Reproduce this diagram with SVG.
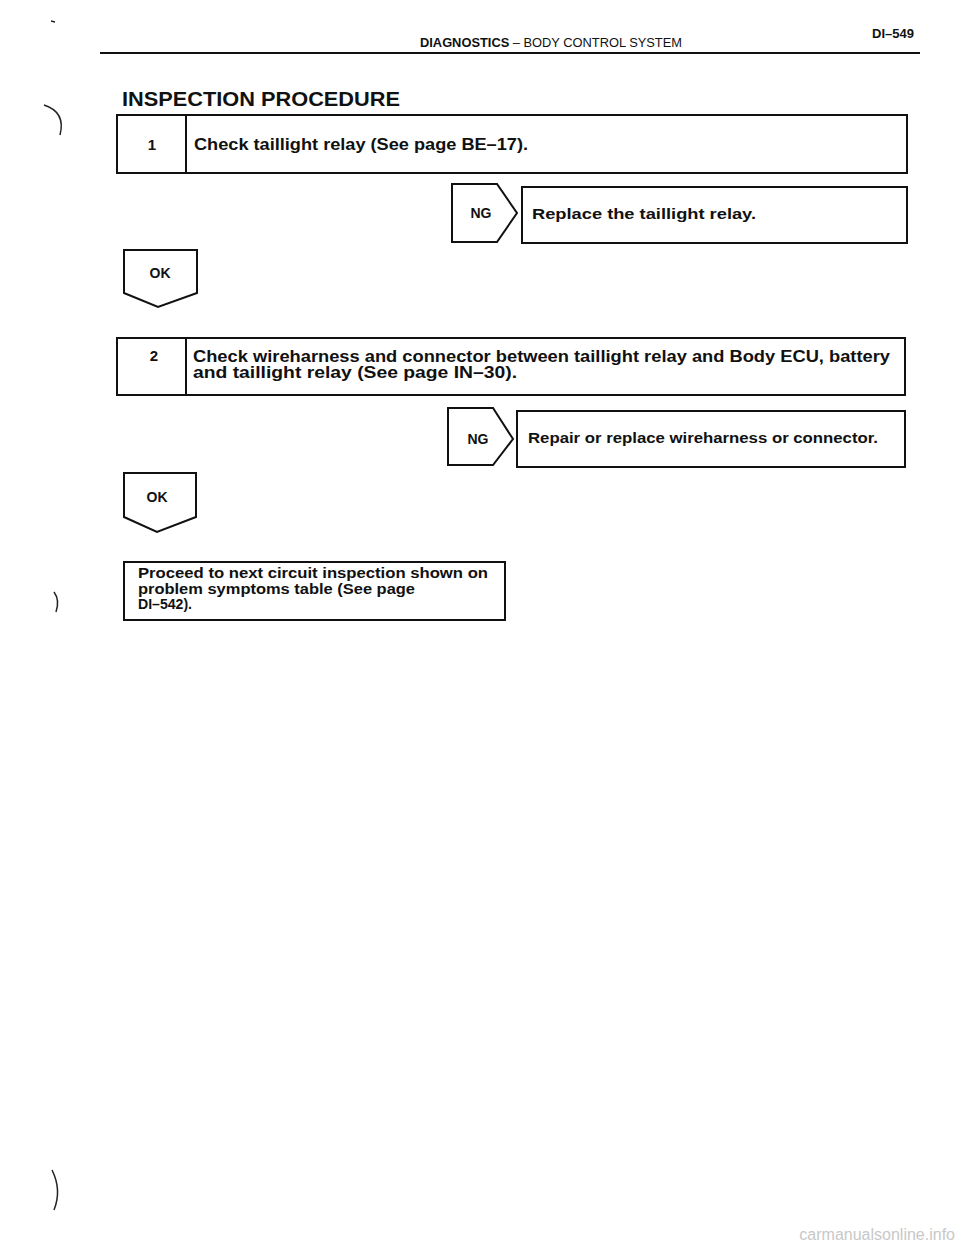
<svg xmlns="http://www.w3.org/2000/svg" width="960" height="1250" viewBox="0 0 960 1250">
<style>
.ln{fill:none;stroke:#111;stroke-width:2}
.t{font-family:"Liberation Sans",Arial,sans-serif;font-weight:bold;fill:#111}
.h{font-family:"Liberation Sans",Arial,sans-serif;fill:#111}
.mk{fill:none;stroke:#222;stroke-width:1.5}
</style>
<rect width="960" height="1250" fill="#fff"/>
<g id="marks">
<path class="mk" d="M51 21 l4 1"/>
<path class="mk" d="M44 105 Q66 112 60 135" stroke-width="2"/>
<path class="mk" d="M54 592 Q60 600 56 612" stroke-width="1"/>
<path class="mk" d="M52 1170 Q62 1190 54 1210" stroke-width="1"/>
</g>
<g id="header">
<text class="t" x="914" y="38" font-size="13" text-anchor="end">DI–549</text>
<text class="h" x="420" y="47" font-size="12" textLength="262" lengthAdjust="spacingAndGlyphs"><tspan font-weight="bold">DIAGNOSTICS</tspan>  –  BODY CONTROL SYSTEM</text>
<path class="ln" d="M100 53 H920" stroke-width="1.5"/>
<text class="t" x="122" y="106" font-size="20" textLength="278" lengthAdjust="spacingAndGlyphs">INSPECTION PROCEDURE</text>
</g>
<g id="step1">
<rect class="ln" x="117" y="115" width="790" height="58"/>
<path class="ln" d="M186 115 V173"/>
<text class="t" x="152" y="150" font-size="15" text-anchor="middle">1</text>
<text class="t" x="194" y="150" font-size="16" textLength="334" lengthAdjust="spacingAndGlyphs">Check taillight relay (See page BE–17).</text>
</g>
<g id="ng1">
<path class="ln" d="M452 184 H497 L517 213 L497 242 H452 Z"/>
<text class="t" x="481" y="218" font-size="14" text-anchor="middle">NG</text>
</g>
<g id="result1">
<rect class="ln" x="522" y="187" width="385" height="56"/>
<text class="t" x="532" y="219" font-size="14" textLength="224" lengthAdjust="spacingAndGlyphs">Replace the taillight relay.</text>
</g>
<g id="ok1">
<path class="ln" d="M124 250 H197 V293 L158 307 L124 293 Z"/>
<text class="t" x="160" y="278" font-size="14" text-anchor="middle">OK</text>
</g>
<g id="step2">
<rect class="ln" x="117" y="338" width="788" height="57"/>
<path class="ln" d="M186 338 V395"/>
<text class="t" x="154" y="361" font-size="15" text-anchor="middle">2</text>
<text class="t" x="193" y="362" font-size="16" textLength="697" lengthAdjust="spacingAndGlyphs">Check wireharness and connector between taillight relay and Body ECU, battery</text>
<text class="t" x="193" y="378" font-size="16" textLength="324" lengthAdjust="spacingAndGlyphs">and taillight relay (See page IN–30).</text>
</g>
<g id="ng2">
<path class="ln" d="M448 408 H493 L513 439 L493 465 H448 Z"/>
<text class="t" x="478" y="444" font-size="14" text-anchor="middle">NG</text>
</g>
<g id="result2">
<rect class="ln" x="517" y="411" width="388" height="56"/>
<text class="t" x="528" y="443" font-size="14" textLength="350" lengthAdjust="spacingAndGlyphs">Repair or replace wireharness or connector.</text>
</g>
<g id="ok2">
<path class="ln" d="M124 473 H196 V517 L157 532 L124 517 Z"/>
<text class="t" x="157" y="502" font-size="14" text-anchor="middle">OK</text>
</g>
<g id="final">
<rect class="ln" x="124" y="562" width="381" height="58"/>
<text class="t" x="138" y="578" font-size="14" textLength="350" lengthAdjust="spacingAndGlyphs">Proceed to next circuit inspection shown on</text>
<text class="t" x="138" y="594" font-size="14" textLength="277" lengthAdjust="spacingAndGlyphs">problem symptoms table (See page</text>
<text class="t" x="138" y="609" font-size="14" textLength="54" lengthAdjust="spacingAndGlyphs">DI–542).</text>
</g>
<g id="connectors"></g>
<text x="955" y="1240" font-family="Liberation Sans,Arial,sans-serif" font-size="16" fill="#c8c8c8" text-anchor="end">carmanualsonline.info</text>
</svg>
